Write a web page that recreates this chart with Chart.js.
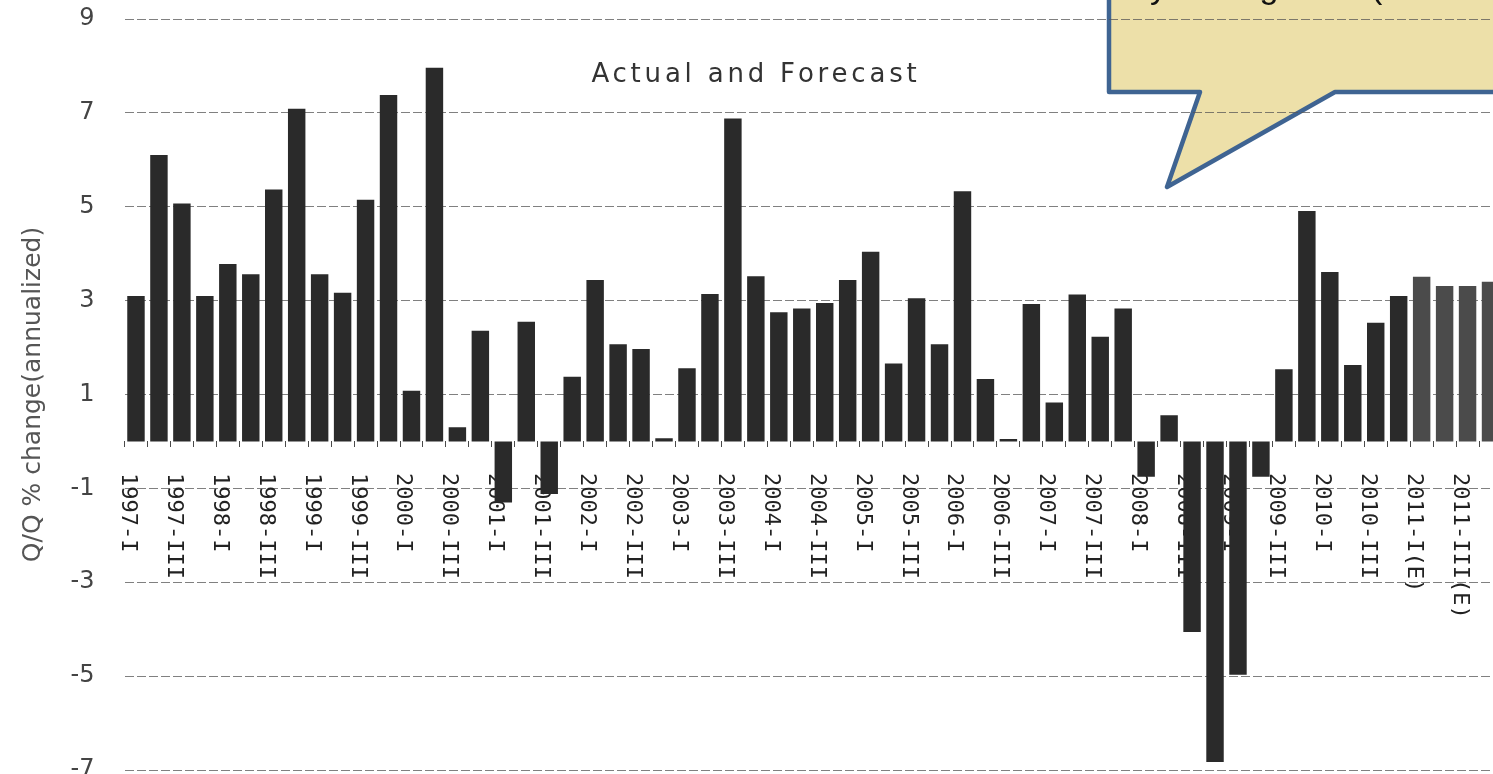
<!DOCTYPE html>
<html>
<head>
<meta charset="utf-8">
<script src="https://cdn.jsdelivr.net/npm/chart.js@4.4.1/dist/chart.umd.min.js"></script>
<style>
  html, body { margin: 0; padding: 0; background: #fff; overflow: hidden; }
  #wrap { position: relative; width: 1510px; height: 790px; }
</style>
</head>
<body>
<div id="wrap"><canvas id="gdp"></canvas></div>
<script>
// Quarterly real GDP, Q/Q % change (annualized), 1997-I .. 2011-IV; 2011 quarters are estimates
const years = [1997, 1998, 1999, 2000, 2001, 2002, 2003, 2004, 2005, 2006, 2007, 2008, 2009, 2010, 2011];
const quarterNames = ['I', 'II', 'III', 'IV'];
const estimateYears = [2011];

const growth = [
  3.10, 6.10, 5.07, 3.10,    // 1997
  3.78, 3.56, 5.37, 7.09,    // 1998
  3.56, 3.17, 5.15, 7.38,    // 1999
  1.08, 7.96, 0.30, 2.36,    // 2000
  -1.30, 2.55, -1.12, 1.38,  // 2001
  3.44, 2.07, 1.97, 0.07,    // 2002
  1.56, 3.14, 6.88, 3.52,    // 2003
  2.75, 2.83, 2.95, 3.44,    // 2004
  4.04, 1.66, 3.05, 2.07,    // 2005
  5.33, 1.33, 0.05, 2.93,    // 2006
  0.83, 3.13, 2.23, 2.83,    // 2007
  -0.75, 0.56, -4.06, -6.83, // 2008
  -4.97, -0.75, 1.54, 4.91,  // 2009
  3.61, 1.63, 2.53, 3.10,    // 2010
  3.51, 3.31, 3.31, 3.40     // 2011 (E)
];

const yTickValues = [9, 7, 5, 3, 1, -1, -3, -5, -7];

// Category labels such as "1997-I" or "2011-III(E)"
const quarters = [];
const isEstimate = [];
years.forEach(yr => quarterNames.forEach(q => {
  const est = estimateYears.includes(yr);
  quarters.push(yr + '-' + q + (est ? '(E)' : ''));
  isEstimate.push(est);
}));

const ACTUAL_COLOR = '#2a2a2a';
const ESTIMATE_COLOR = '#4b4b4b';

// Speech-bubble note in the top-right corner, drawn beneath the grid
const calloutPlugin = {
  id: 'callout',
  beforeDraw(chart) {
    const ctx = chart.ctx;
    ctx.save();
    ctx.beginPath();
    ctx.moveTo(1109, -40);
    ctx.lineTo(1109, 92);
    ctx.lineTo(1200, 92);
    ctx.lineTo(1167, 187);
    ctx.lineTo(1335, 92);
    ctx.lineTo(1560, 92);
    ctx.lineTo(1560, -40);
    ctx.closePath();
    ctx.fillStyle = '#ede0a9';
    ctx.fill();
    ctx.lineWidth = 4.5;
    ctx.lineJoin = 'round';
    ctx.strokeStyle = '#3f6492';
    ctx.stroke();
    ctx.fillStyle = '#111';
    ctx.font = '34px "Liberation Sans", Arial, sans-serif';
    ctx.textAlign = 'left';
    ctx.textBaseline = 'alphabetic';
    ctx.fillText('by GDP growth (annualized)', 1131, -2);
    ctx.restore();
  }
};

// Rotated quarter labels hanging below the zero line (every other quarter)
const quarterLabelPlugin = {
  id: 'quarterLabels',
  beforeDatasetsDraw(chart) {
    const { ctx, scales: { x, y } } = chart;
    const y0 = y.getPixelForValue(0);
    ctx.save();
    ctx.font = '22px "DejaVu Sans Mono", monospace';
    ctx.fillStyle = '#222';
    ctx.textAlign = 'left';
    ctx.textBaseline = 'alphabetic';
    quarters.forEach((label, i) => {
      if (i % 2 !== 0) return;
      const px = x.getPixelForValue(i);
      ctx.save();
      ctx.translate(px - 14, y0 + 31.5);
      ctx.rotate(Math.PI / 2);
      ctx.fillText(label, 0, 0);
      ctx.restore();
    });
    ctx.restore();
  }
};

// Heading inside the plot area
const headingPlugin = {
  id: 'heading',
  afterDraw(chart) {
    const { ctx, chartArea } = chart;
    ctx.save();
    ctx.font = '26px "DejaVu Sans", Verdana, sans-serif';
    ctx.fillStyle = '#333';
    ctx.textAlign = 'center';
    ctx.textBaseline = 'alphabetic';
    if ('letterSpacing' in ctx) ctx.letterSpacing = '3.8px';
    const cx = chartArea.left + (chartArea.right - chartArea.left) * 0.4584;
    ctx.fillText('Actual and Forecast', cx, chartArea.top + 63);
    ctx.restore();
  }
};

new Chart(document.getElementById('gdp'), {
  type: 'bar',
  data: {
    labels: quarters,
    datasets: [{
      data: growth,
      backgroundColor: isEstimate.map(e => e ? ESTIMATE_COLOR : ACTUAL_COLOR),
      borderWidth: 0,
      categoryPercentage: 1,
      barPercentage: 0.76
    }]
  },
  options: {
    responsive: true,
    maintainAspectRatio: false,
    animation: false,
    devicePixelRatio: 1,
    layout: { padding: { left: 0, right: 8, top: 19, bottom: 20 } },
    plugins: {
      legend: { display: false },
      tooltip: { enabled: false },
      title: { display: false }
    },
    scales: {
      x: {
        type: 'category',
        position: { y: 0 },
        offset: true,
        grid: {
          display: true,
          offset: true,
          drawOnChartArea: false,
          drawTicks: true,
          tickLength: 6,
          color: '#4a4a4a',
          lineWidth: 1
        },
        border: { display: false },
        ticks: { display: false, autoSkip: false }
      },
      y: {
        min: -7,
        max: 9,
        afterBuildTicks(scale) {
          scale.ticks = yTickValues.map(v => ({ value: v }));
        },
        afterFit(scale) {
          // fixed axis width; the outer layout padding already leaves room for the end labels
          scale.width = 124.5;
          scale.paddingTop = 0;
          scale.paddingBottom = 0;
        },
        ticks: {
          stepSize: 2,
          padding: 30,
          color: '#444',
          font: { family: '"DejaVu Sans", Verdana, sans-serif', size: 24 }
        },
        grid: {
          color: 'rgba(85,85,85,0.75)',
          lineWidth: 1,
          drawTicks: false
        },
        border: { display: false, dash: [9, 3] },
        title: {
          display: true,
          text: 'Q/Q % change(annualized)',
          color: '#555',
          font: { family: '"DejaVu Sans", Verdana, sans-serif', size: 25 },
          padding: { top: 18, bottom: 0 }
        }
      }
    }
  },
  plugins: [calloutPlugin, quarterLabelPlugin, headingPlugin]
});
</script>
</body>
</html>
